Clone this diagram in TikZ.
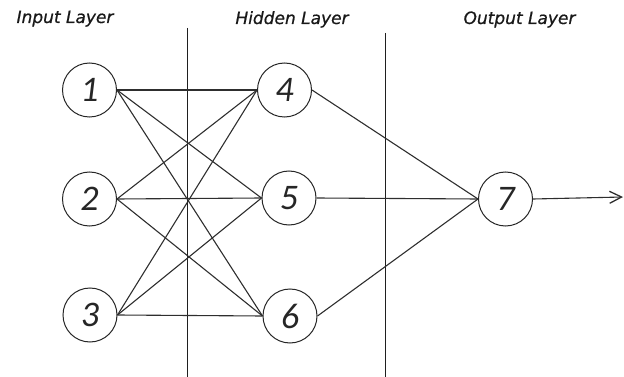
\documentclass[tikz,border=0pt]{standalone}
\usepackage{fontspec}
\setmainfont{Carlito}
\newfontfamily\titlefont[FakeBold=0.7]{DejaVu Sans}
\usetikzlibrary{arrows.meta}
\begin{document}
\begin{tikzpicture}[x=1pt,y=-1pt,
  neuron/.style={circle,draw=black!85,line width=1pt,minimum size=54pt,inner sep=0pt,
    font=\fontsize{36}{36}\selectfont\itshape,text=black!85},
  link/.style={draw=black!82,line width=1.1pt},
  divider/.style={draw=black!88,line width=1pt},
  layername/.style={font=\titlefont\fontsize{17}{17}\selectfont\itshape,
    text=black!90,inner sep=0pt,anchor=base}]
  \useasboundingbox (0,0) rectangle (624,377);

  % layer titles
  \node[layername] (tin)  at (65,23)    {Input Layer};
  \node[layername] (thid) at (292,24)   {Hidden Layer};
  \node[layername] (tout) at (519.5,24) {Output Layer};

  % separators between layers
  \coordinate (d1a) at (187,28);  \coordinate (d1b) at (187,377);
  \coordinate (d2a) at (385,33);  \coordinate (d2b) at (385,377);
  \draw[divider] (d1a) -- (d1b);
  \draw[divider] (d2a) -- (d2b);

  % neurons
  \node[neuron] (n1) at (89.5,90)  {1};
  \node[neuron] (n2) at (89.5,199) {2};
  \node[neuron] (n3) at (90,315)   {3};
  \node[neuron] (n4) at (284.5,90) {4};
  \node[neuron] (n5) at (289,198)  {5};
  \node[neuron] (n6) at (290,316)  {6};
  \node[neuron] (n7) at (505.5,199) {7};

  % input -> hidden
  \foreach \i in {n1,n2,n3}
    \foreach \h in {n4,n5,n6}
      \draw[link] (\i.east) -- (\h.west);

  % hidden -> output
  \foreach \h in {n4,n5,n6}
    \draw[link] (\h.east) -- (n7.west);

  % network output
  \coordinate (out) at (623,197);
  \draw[link,-{Straight Barb[length=12pt,width=12pt,line width=1.3pt]}] (n7.east) -- (out);
\end{tikzpicture}
\end{document}
